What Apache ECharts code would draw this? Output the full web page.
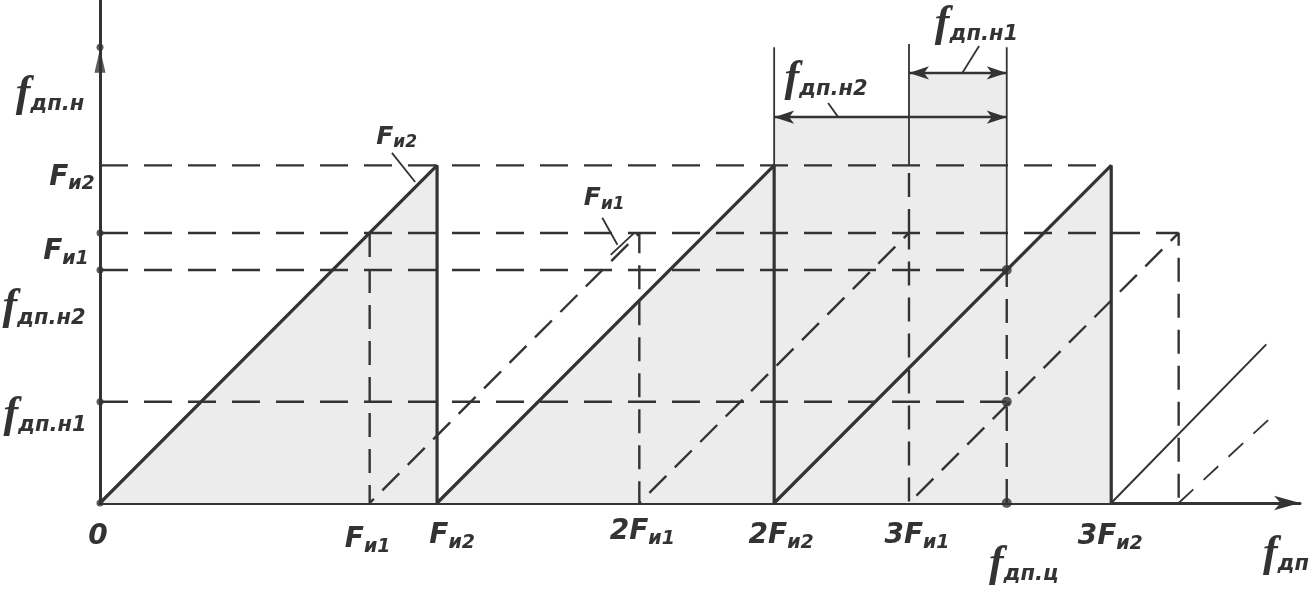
<!DOCTYPE html>
<html><head><meta charset="utf-8">
<script src="https://cdn.jsdelivr.net/npm/echarts@6/dist/echarts.min.js"></script>
<style>html,body{margin:0;padding:0;background:#fff}#c{width:1315px;height:600px}</style>
</head><body><div id="c"></div>
<script>
// ---- data, in units of F_и2 ----
const solidSaw   = [[0,0],[1,1],[1,0],[2,1],[2,0],[3,1],[3,0]];
const solidTail  = [[3,0],[3.46,0.47]];
const dashedSaw  = [[0.8,0.8],[0.8,0],[1.6,0.8],[1.6,0],[2.4,0.8],[2.4,0],[3.2,0.8],[3.2,0]];
const dashedTail = [[3.2,0],[3.47,0.25]];
const levelF2 = [[0,1],[3,1]];
const levelF1 = [[0,0.8],[3.2,0.8]];
const levelN2 = [[0,0.69],[2.69,0.69]];
const levelN1 = [[0,0.30],[2.69,0.30]];
const shadeOutline = [[0,0],[1,1],[1,0],[2,1],[2,1.143],[2.4,1.143],[2.4,1.274],[2.69,1.274],[2.69,0.69],[3,1],[3,0]];
const extLines = [[2,1],[2,1.35],'-',[2.4,1],[2.4,1.36],'-',[2.69,0.69],[2.69,1.35]];
const extDashed = [[2.4,0.8],[2.4,1],'-',[2.69,0],[2.69,0.69]];
const bracketN2 = [[2,1.143],[2.69,1.143]];
const bracketN1 = [[2.4,1.274],[2.69,1.274]];
const leaders = [[0.866,1.037],[0.935,0.951],'-',[1.49,0.845],[1.535,0.765],'-',[1.515,0.735],[1.585,0.80],'-',[2.16,1.185],[2.19,1.143],'-',[2.608,1.354],[2.558,1.274]];
const axisDots = [[0,0.8],[0,0.69],[0,0.30],[0,0],[0,1.35]];
const targetDots = [[2.69,0.69],[2.69,0.30],[2.69,0]];
const xTickValues = [0, 0.8, 1, 1.6, 2, 2.4, 2.69, 3];
const xTickLabels = ['{F|0}', '{F|F}{s|и1}', '{F|F}{s|и2}', '{F|2F}{s|и1}', '{F|2F}{s|и2}', '{F|3F}{s|и1}', '{f|f}{fs|дп.ц}', '{F|3F}{s|и2}'];
const yTickValues = [1, 0.8, 0.69, 0.30];
const yTickLabels = ['{F|F}{s|и2}', '{F|F}{s|и1}', '{f|f}{fs|дп.н2}', '{f|f}{fs|дп.н1}'];
const yAxisTitle = '{f|f}{fs|дп.н}';
const xAxisTitle = '{f|f}{fs|дп}';
const peakLabels = [{v:[0.88,1.084], t:'{F2|F}{s2|и2}'}, {v:[1.496,0.903], t:'{F2|F}{s2|и1}'},
                    {v:[2.154,1.253], t:'{f|f}{fs|дп.н2}'}, {v:[2.6,1.416], t:'{f|f}{fs|дп.н1}'}];

// ---- styles ----
const INK = '#333333';
const sans = 'DejaVu Sans';
const rich = {
  F:  {fontFamily:sans, fontStyle:'italic', fontWeight:'bold', fontSize:28, color:INK},
  s:  {fontFamily:sans, fontStyle:'italic', fontWeight:'bold', fontSize:19, color:INK, padding:[14,0,0,0]},
  F2: {fontFamily:sans, fontStyle:'italic', fontWeight:'bold', fontSize:25, color:INK},
  s2: {fontFamily:sans, fontStyle:'italic', fontWeight:'bold', fontSize:17, color:INK, padding:[12,0,0,0]},
  f:  {fontFamily:'Liberation Serif', fontStyle:'italic', fontWeight:'bold', fontSize:44, color:INK},
  fs: {fontFamily:sans, fontStyle:'italic', fontWeight:'bold', fontSize:21, color:INK, padding:[20,0,0,0]}
};
const xOffsets = [[-2,34],[-2,37],[15,33],[3,29],[7,33],[8,33],[17,62],[-1,34]];
const yOffsets = [[-28,12],[-34,19],[-56,38],[-55,14]];

function labelSeries(items) {
  return {
    type:'scatter', symbolSize:0.1, itemStyle:{color:'#ffffff', opacity:1}, z:10, silent:true,
    data: items.map(it => ({value: it.v, label:{show:true, position:'inside', color:INK, opacity:1,
      textBorderWidth:0, textShadowBlur:0, formatter: it.t, rich, offset: it.o}}))
  };
}
function lineS(data, width, type, z) {
  return {type:'line', data, symbol:'none', connectNulls:false, silent:true, z: z||3,
          lineStyle:{color:INK, width, type: type||'solid', cap:'butt'}};
}

const xItems = xTickValues.map((v,i) => ({v:[v,0], t:xTickLabels[i], o:xOffsets[i]}));
const yItems = yTickValues.map((v,i) => ({v:[0,v], t:yTickLabels[i], o:yOffsets[i]}));
xItems.push({v:[3.56,0], t:xAxisTitle, o:[-14,52]});
yItems.push({v:[0,1.2], t:yAxisTitle, o:[-50,-3]});

const option = {
  animation:false,
  backgroundColor:'#fff',
  grid:{left:100, right:15, top:0, bottom:97, containLabel:false},
  xAxis:{type:'value', min:0, max:3.56, splitLine:{show:false}, axisTick:{show:false}, axisLabel:{show:false},
         axisLine:{show:true, onZero:false, symbol:['none','arrow'], symbolSize:[11,26], lineStyle:{color:INK, width:3}}},
  yAxis:{type:'value', min:0, max:1.49, splitLine:{show:false}, axisTick:{show:false}, axisLabel:{show:false},
         axisLine:{show:true, onZero:false, lineStyle:{color:INK, width:3}}},
  series:[
    {type:'line', data:shadeOutline, symbol:'none', silent:true, z:1, lineStyle:{width:0, opacity:0},
     areaStyle:{color:'#ececec', opacity:1}},
    lineS(levelF2, 2.4, [28,16]),
    lineS(levelF1, 2.4, [28,16]),
    lineS(levelN2, 2.4, [28,16]),
    lineS(levelN1, 2.4, [28,16]),
    lineS(dashedSaw, 2.4, [24,12]),
    lineS(extDashed, 2.4, [24,12]),
    lineS(dashedTail, 1.8, [20,14]),
    lineS(extLines, 1.8),
    lineS(solidSaw, 3.2, 'solid', 5),
    lineS(solidTail, 2),
    lineS(leaders, 1.8),
    {type:'line', data:[], symbol:'none', silent:true,
     markLine:{silent:true, symbol:['arrow','arrow'], symbolSize:[10,20], label:{show:false},
       lineStyle:{color:INK, width:2.4, type:'solid'},
       data:[[{coord:bracketN2[0]},{coord:bracketN2[1]}],[{coord:bracketN1[0]},{coord:bracketN1[1]}]]}},
    {type:'scatter', data:axisDots, symbol:'circle', symbolSize:7, itemStyle:{color:INK}, z:6, silent:true},
    {type:'scatter', data:targetDots, symbol:'circle', symbolSize:10, itemStyle:{color:INK}, z:6, silent:true},
    {type:'scatter', data:[[0,1.31]], symbol:'triangle', symbolSize:[11,24], itemStyle:{color:INK}, z:6, silent:true},
    labelSeries(xItems),
    labelSeries(yItems),
    labelSeries(peakLabels.map(p => ({v:p.v, t:p.t, o:[0,0]})))
  ]
};
const chart = echarts.init(document.getElementById('c'), null, {renderer:'canvas'});
chart.setOption(option);
</script></body></html>
